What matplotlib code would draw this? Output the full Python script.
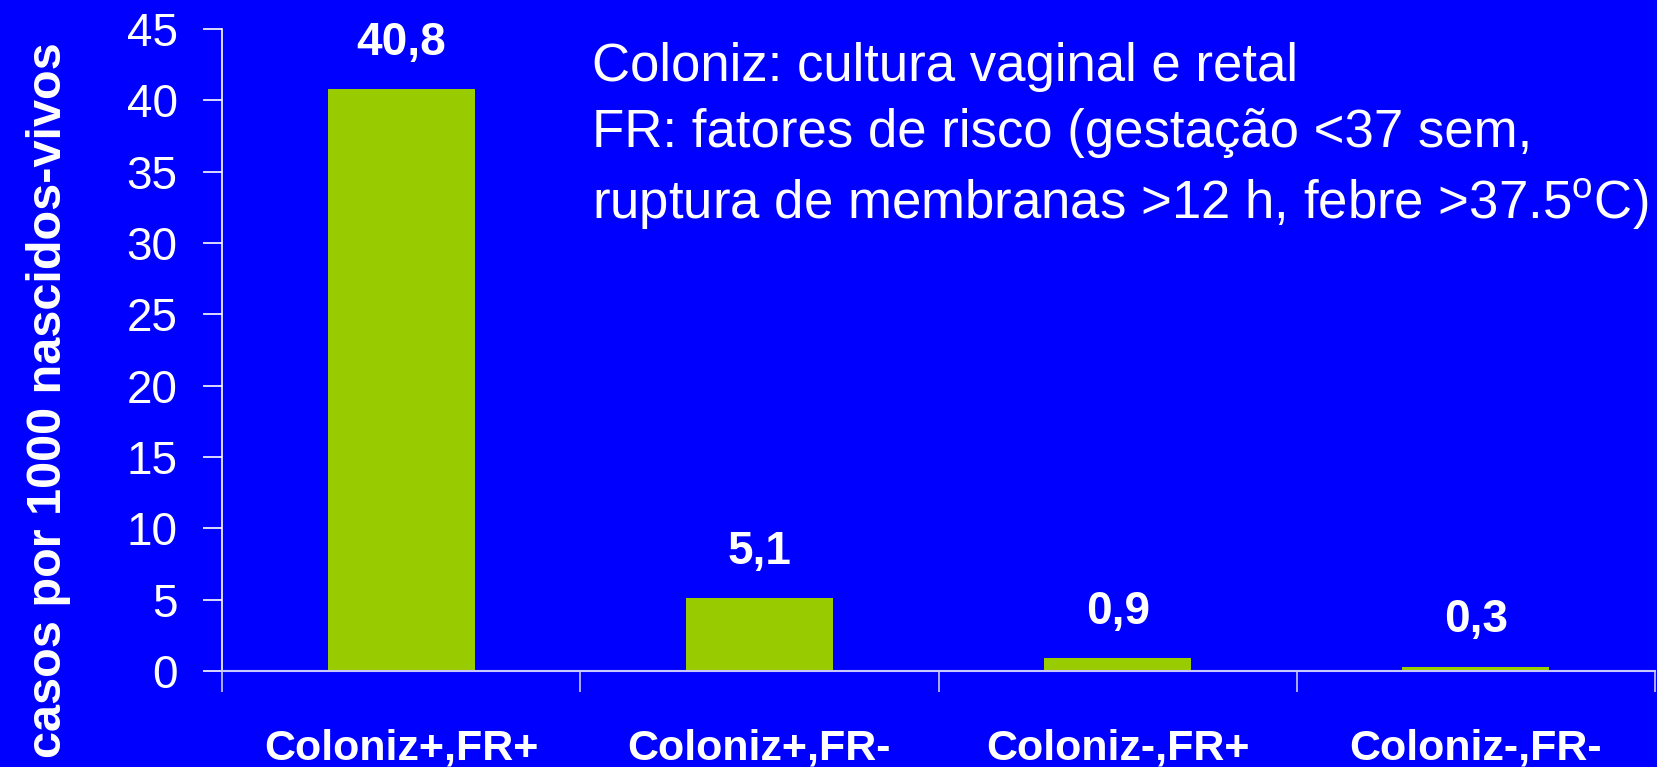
import numpy as np
import matplotlib.pyplot as plt
from matplotlib import font_manager

# dados
categorias = ['Coloniz+,FR+', 'Coloniz+,FR-', 'Coloniz-,FR+', 'Coloniz-,FR-']
casos = [40.8, 5.1, 0.9, 0.3]
rotulos = ['40,8', '5,1', '0,9', '0,3']
yticks = [0, 5, 10, 15, 20, 25, 30, 35, 40, 45]

AZUL = '#0000FF'
VERDE = '#99CC00'
BRANCO = 'white'
LILAS = '#C8C8FF'

plt.rcParams['font.family'] = ['Liberation Sans', 'DejaVu Sans']

# rótulos do eixo x são estreitos no original
nomes = {f.name for f in font_manager.fontManager.ttflist}
if 'Liberation Sans Narrow' in nomes:
    fonte_x, tam_x = ['Liberation Sans Narrow', 'Liberation Sans'], 34
else:
    fonte_x, tam_x = ['Liberation Sans', 'DejaVu Sans'], 31

fig = plt.figure(figsize=(16.57, 7.67), dpi=100, facecolor=AZUL)
ax = fig.add_axes([0.134, 0.1252, 0.8648, 0.837], facecolor=AZUL)

x = np.arange(len(categorias))
ax.bar(x, casos, width=0.41, color=VERDE, zorder=2)

# rótulos de valor acima das barras
for xi, v, r in zip(x, casos, rotulos):
    ax.text(xi, v + 2.4, r, ha='center', va='baseline', color=BRANCO,
            fontsize=33, fontweight='bold')

ax.set_xlim(-0.5, 3.5)
ax.set_ylim(0, 45)

# eixo y
ax.set_yticks(yticks)
ax.set_yticklabels([str(t) for t in yticks])
ax.tick_params(axis='y', colors=BRANCO, labelsize=33, length=14, width=1.2, pad=18)

# eixo x: marcas entre categorias
ax.set_xticks(np.arange(-0.5, 4.0, 1.0))
ax.set_xticklabels([])
ax.tick_params(axis='x', which='major', colors=LILAS, length=15, width=1.2)

# nomes das categorias
for xi, c in zip(x, categorias):
    ax.annotate(c, xy=(xi, 0), xycoords=('data', 'axes fraction'),
                xytext=(0, -64), textcoords='offset points',
                ha='center', va='baseline', color=BRANCO,
                fontsize=tam_x, fontweight='bold', family=fonte_x)

for s in ['top', 'right']:
    ax.spines[s].set_visible(False)
ax.spines['left'].set_color(BRANCO)
ax.spines['bottom'].set_color(LILAS)
ax.spines['left'].set_linewidth(1.2)
ax.spines['bottom'].set_linewidth(1.5)

fig.text(0.029, 0.478, 'casos por 1000 nascidos-vivos', rotation=90,
         ha='center', va='center', color=BRANCO, fontsize=35, fontweight='bold')

# legenda em texto
nota = ('Coloniz: cultura vaginal e retal\n'
        'FR: fatores de risco (gestação <37 sem,\n'
        'ruptura de membranas >12 h, febre >37.5$^\\mathregular{o}$C)')
ax.text(0.258, 0.98, nota, transform=ax.transAxes, ha='left', va='top',
        color=BRANCO, fontsize=38, linespacing=1.42)

fig.savefig('out.png', dpi=100, facecolor=AZUL)
